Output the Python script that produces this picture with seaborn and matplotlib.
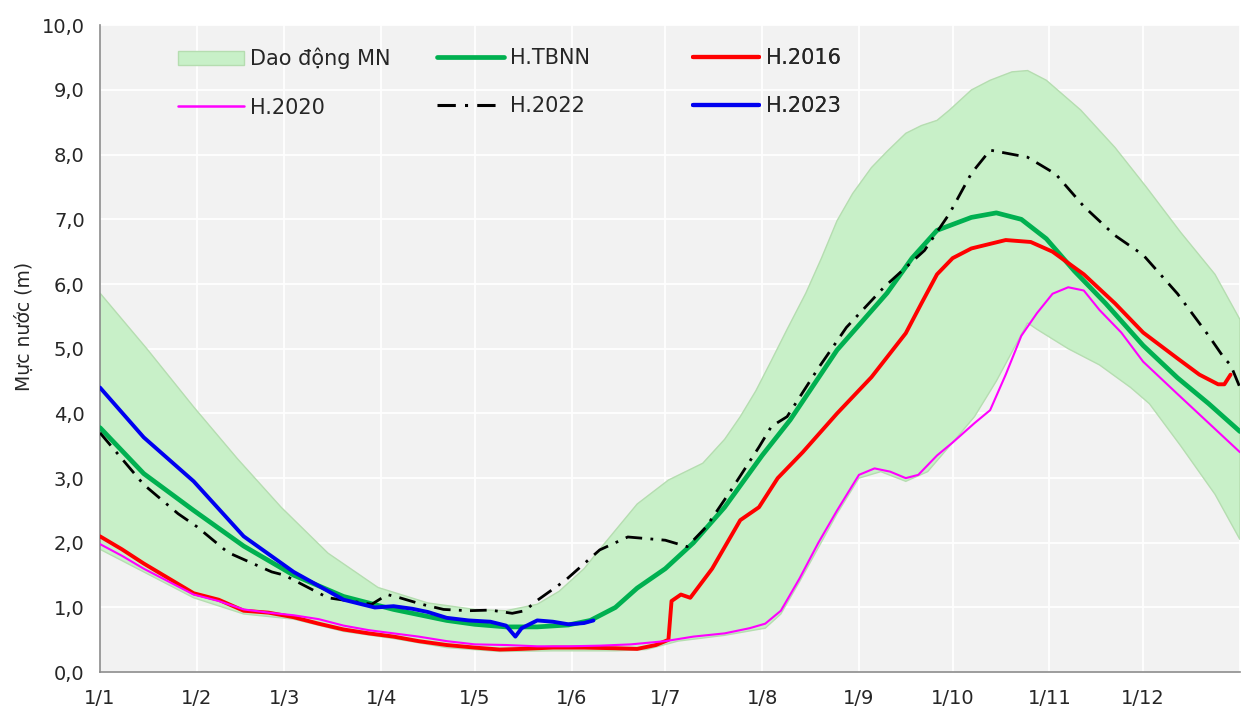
import numpy as np
import matplotlib
matplotlib.use("Agg")
import matplotlib.pyplot as plt
import matplotlib.patches as mpatches
from matplotlib.lines import Line2D
import seaborn as sns

# day of year (0 = 1/1) and water level (m)
band_up_days = [0, 15, 30, 44, 58, 73, 89, 105, 120, 130, 140, 147, 155, 160, 166, 172, 182, 193, 200,
                205, 210, 215, 220, 226, 231, 236, 241, 247, 252, 258, 263, 268, 272, 279, 285, 292,
                297, 303, 314, 325, 335, 346, 357, 365]
band_up_vals = [5.86, 5.0, 4.1, 3.3, 2.55, 1.84, 1.31, 1.07, 0.97, 0.95, 1.05, 1.25, 1.6, 1.9, 2.25, 2.6,
                2.97, 3.23, 3.6, 3.95, 4.35, 4.82, 5.3, 5.86, 6.4, 6.98, 7.4, 7.8, 8.05, 8.33, 8.45,
                8.53, 8.69, 9.0, 9.15, 9.28, 9.3, 9.15, 8.69, 8.11, 7.5, 6.8, 6.15, 5.45]
band_lo_days = [0, 14, 30, 46, 62, 78, 94, 111, 128, 145, 165, 175, 185, 200, 213, 218, 224, 236, 243,
                250, 258, 265, 273, 280, 287, 292, 297, 300, 310, 320, 330, 336, 346, 357, 365]
band_lo_vals = [1.9, 1.55, 1.15, 0.9, 0.82, 0.63, 0.52, 0.38, 0.32, 0.33, 0.33, 0.35, 0.48, 0.57, 0.68,
                0.9, 1.4, 2.45, 3.0, 3.1, 2.95, 3.1, 3.55, 3.95, 4.5, 4.95, 5.4, 5.3, 5.0, 4.75, 4.4,
                4.15, 3.5, 2.75, 2.05]

tbnn_days = [0, 14, 30, 46, 62, 78, 94, 111, 120, 130, 140, 150, 157, 165, 172, 181, 190, 200, 212,
             221, 236, 252, 260, 268, 279, 287, 295, 303, 312, 322, 334, 345, 355, 365]
tbnn_vals = [3.78, 3.07, 2.5, 1.95, 1.5, 1.17, 0.97, 0.8, 0.74, 0.7, 0.7, 0.73, 0.8, 1.0, 1.3, 1.6,
             2.0, 2.55, 3.35, 3.9, 4.98, 5.86, 6.4, 6.83, 7.03, 7.1, 7.0, 6.7, 6.2, 5.7, 5.05,
             4.55, 4.15, 3.72]

h2016_days = [0, 7, 14, 22, 30, 38, 46, 54, 62, 70, 78, 86, 94, 102, 111, 120, 128, 135, 145, 155,
              165, 172, 178, 182, 183, 186, 189, 196, 205, 211, 217, 225, 236, 247, 258, 263, 268,
              273, 279, 290, 298, 305, 315, 325, 334, 345, 352, 358, 360, 362]
h2016_vals = [2.1, 1.9, 1.68, 1.45, 1.22, 1.12, 0.95, 0.92, 0.85, 0.75, 0.66, 0.6, 0.55, 0.48, 0.42,
              0.38, 0.35, 0.36, 0.38, 0.38, 0.37, 0.36, 0.42, 0.5, 1.1, 1.2, 1.15, 1.6, 2.35, 2.55, 3.0,
              3.4, 4.0, 4.56, 5.24, 5.7, 6.15, 6.4, 6.55, 6.68, 6.65, 6.5, 6.15, 5.7, 5.25, 4.85, 4.6,
              4.45, 4.45, 4.6]

h2020_days = [0, 7, 14, 22, 30, 38, 46, 54, 62, 70, 78, 86, 94, 102, 111, 120, 130, 140, 150, 160,
              170, 181, 190, 200, 208, 213, 218, 224, 230, 236, 243, 248, 253, 258, 262, 268, 273,
              280, 285, 290, 295, 300, 305, 310, 315, 320, 327, 334, 345, 355, 365]
h2020_vals = [1.98, 1.8, 1.6, 1.4, 1.2, 1.1, 0.97, 0.92, 0.88, 0.82, 0.72, 0.65, 0.6, 0.55, 0.48, 0.43,
              0.42, 0.4, 0.4, 0.41, 0.43, 0.48, 0.55, 0.6, 0.68, 0.75, 0.95, 1.45, 2.0, 2.5, 3.05, 3.15,
              3.1, 3.0, 3.05, 3.35, 3.55, 3.85, 4.05, 4.6, 5.2, 5.55, 5.85, 5.95, 5.9, 5.6, 5.25, 4.8,
              4.3, 3.85, 3.4]

h2022_days = [0, 14, 25, 31, 41, 55, 59, 73, 87, 92, 96, 103, 110, 118, 125, 132, 136, 140, 149, 160,
              169, 181, 188, 194, 202, 211, 215, 220, 230, 239, 251, 264, 272, 279, 285, 297, 306,
              315, 325, 334, 345, 355, 360, 362, 365]
h2022_vals = [3.7, 2.9, 2.45, 2.25, 1.85, 1.55, 1.5, 1.15, 1.05, 1.2, 1.15, 1.05, 0.97, 0.95, 0.96,
              0.91, 0.95, 1.11, 1.42, 1.89, 2.09, 2.04, 1.94, 2.24, 2.81, 3.48, 3.8, 3.95, 4.7, 5.33,
              5.95, 6.52, 7.09, 7.71, 8.07, 7.96, 7.7, 7.2, 6.75, 6.45, 5.85, 5.2, 4.85, 4.75, 4.4]

h2023_days = [0, 14, 30, 46, 62, 78, 88, 94, 100, 105, 111, 118, 125, 130, 133, 135, 140, 145, 150,
              155, 158]
h2023_vals = [4.4, 3.63, 2.95, 2.1, 1.55, 1.12, 1.0, 1.02, 0.98, 0.93, 0.84, 0.8, 0.78, 0.72, 0.55,
              0.68, 0.8, 0.78, 0.74, 0.76, 0.8]

month_days = [0, 31, 59, 90, 120, 151, 181, 212, 243, 273, 304, 334, 365]
month_labels = ["1/1", "1/2", "1/3", "1/4", "1/5", "1/6", "1/7", "1/8", "1/9", "1/10", "1/11", "1/12", ""]
y_ticks = list(range(0, 11))

sns.set_theme(style="darkgrid", rc={"axes.facecolor": "#F2F2F2", "grid.color": "white",
                                    "grid.linewidth": 1.3})
plt.rcParams["font.family"] = ["DejaVu Sans"]

fig = plt.figure(figsize=(12.53, 7.22), dpi=100)
ax = fig.add_axes([0.0798, 0.069, 0.9098, 0.896])

band_color = "#C8F0C8"
ax.fill(np.r_[band_up_days, band_lo_days[::-1]], np.r_[band_up_vals, band_lo_vals[::-1]],
        facecolor=band_color, edgecolor="#B5DDB0", linewidth=1, zorder=1)

sns.lineplot(x=tbnn_days, y=tbnn_vals, ax=ax, color="#00B050", linewidth=3.4, zorder=3)
sns.lineplot(x=h2016_days, y=h2016_vals, ax=ax, color="#FF0000", linewidth=2.8, zorder=4)
sns.lineplot(x=h2020_days, y=h2020_vals, ax=ax, color="#FF00FF", linewidth=1.5, zorder=5)
sns.lineplot(x=h2022_days, y=h2022_vals, ax=ax, color="black", linewidth=2.0,
             linestyle=(0, (6, 3, 1, 3)), zorder=6)
sns.lineplot(x=h2023_days, y=h2023_vals, ax=ax, color="#0000F0", linewidth=2.8, zorder=7)

ax.set_xlim(0, 365)
ax.set_ylim(0, 10)
ax.set_xticks(month_days)
ax.set_xticklabels(month_labels)
ax.set_yticks(y_ticks)
ax.set_yticklabels([f"{v:.1f}".replace(".", ",") for v in y_ticks])
ax.set_ylabel("Mực nước (m)", fontsize=13.5, color="#262626")
ax.yaxis.set_label_coords(-0.058, 0.535)
ax.set_xlabel("")

for side in ["top", "right"]:
    ax.spines[side].set_visible(False)
for side in ["left", "bottom"]:
    ax.spines[side].set_visible(True)
    ax.spines[side].set_color("#8C8C8C")
    ax.spines[side].set_linewidth(1.2)
ax.tick_params(axis="both", which="major", length=6, width=1, color="#8C8C8C",
               labelsize=14, labelcolor="#262626", direction="out")
ax.tick_params(axis="x", pad=6)
ax.tick_params(axis="y", pad=5)
ax.grid(True, color="white", linewidth=1.3)
ax.set_axisbelow(True)

# legend in three columns, as in the original
fs = 15
col1 = [mpatches.Patch(facecolor=band_color, edgecolor="#B5DDB0", label="Dao động MN"),
        Line2D([], [], color="#FF00FF", linewidth=1.8, label="H.2020")]
col2 = [Line2D([], [], color="#00B050", linewidth=3.4, label="H.TBNN"),
        Line2D([], [], color="black", linewidth=2.2, linestyle=(0, (6, 3, 1, 3)), label="H.2022")]
col3 = [Line2D([], [], color="#FF0000", linewidth=3.0, label="H.2016"),
        Line2D([], [], color="#0000F0", linewidth=3.0, label="H.2023")]
for handles, xpos in [(col1, 0.068), (col2, 0.296), (col3, 0.52)]:
    leg = ax.legend(handles=handles, loc="upper left", bbox_to_anchor=(xpos, 0.965),
                    frameon=False, fontsize=fs, handlelength=3.2, handletextpad=0.3,
                    labelspacing=1.35, borderpad=0, borderaxespad=0)
    for t in leg.get_texts():
        t.set_color("#262626")
    ax.add_artist(leg)

fig.savefig("out.png", dpi=100)
